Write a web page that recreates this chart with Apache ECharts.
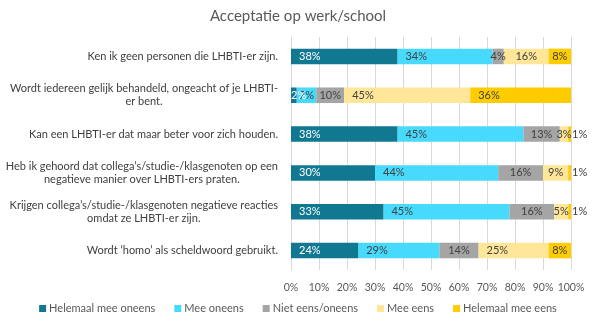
<!DOCTYPE html>
<html>
<head>
<meta charset="utf-8">
<script src="https://cdn.jsdelivr.net/npm/echarts@6/dist/echarts.min.js"></script>
<style>
  html, body { margin: 0; padding: 0; background: #fff; }
  #chart { width: 596px; height: 322px; }
</style>
</head>
<body>
<div id="chart"></div>
<script>
// Statements, top to bottom
const categories = [
  'Ken ik geen personen die LHBTI-er zijn.',
  'Wordt iedereen gelijk behandeld, ongeacht of je LHBTI-\ner bent.',
  'Kan een LHBTI-er dat maar beter voor zich houden.',
  'Heb ik gehoord dat collega\u2019s/studie-/klasgenoten op een\nnegatieve manier over LHBTI-ers praten.',
  'Krijgen collega\u2019s/studie-/klasgenoten negatieve reacties\nomdat ze LHBTI-er zijn.',
  'Wordt \u2018homo\u2019 als scheldwoord gebruikt.'
];

// Answer shares (%) per statement
const helemaalMeeOneens = [38, 2, 38, 30, 33, 24];
const meeOneens         = [34, 7, 45, 44, 45, 29];
const nietEensOneens    = [4, 10, 13, 16, 16, 14];
const meeEens           = [16, 45, 3, 9, 5, 25];
const helemaalMeeEens   = [8, 36, 1, 1, 1, 8];

const seriesNames = ['Helemaal mee oneens', 'Mee oneens', 'Niet eens/oneens', 'Mee eens', 'Helemaal mee eens'];
const seriesData = [helemaalMeeOneens, meeOneens, nietEensOneens, meeEens, helemaalMeeEens];
const colors = ['#117892', '#47DAFD', '#A5A5A5', '#FFE699', '#FFCC00'];
const labelColors = ['#ffffff', '#404040', '#404040', '#404040', '#404040'];

const FONT = 'Lato, "Open Sans", sans-serif';

// Wide segments get their label near the start, narrow ones centred,
// and the tiniest end segments put it just past the bar.
function labelFor(v, seriesIndex) {
  if (v >= 20) return { position: 'insideLeft', distance: 8 };
  if (v <= 2) {
    return seriesIndex === seriesNames.length - 1
      ? { position: 'right', distance: 1 }
      : { position: 'insideLeft', distance: 0 };
  }
  return { position: 'inside' };
}

const chart = echarts.init(document.getElementById('chart'));
chart.setOption({
  animation: false,
  color: colors,
  textStyle: { fontFamily: FONT },
  title: {
    text: 'Acceptatie op werk/school',
    left: 'center',
    top: 4,
    textStyle: { fontFamily: FONT, fontSize: 15, fontWeight: 'normal', color: '#595959' }
  },
  legend: {
    bottom: 3,
    left: 'center',
    itemWidth: 7,
    itemHeight: 7,
    itemGap: 19,
    icon: 'rect',
    textStyle: { fontFamily: FONT, fontSize: 11, color: '#595959', padding: [0, 0, 0, -2] },
    data: seriesNames
  },
  grid: { left: 291, right: 25, top: 37, bottom: 52, containLabel: false },
  xAxis: {
    type: 'value',
    min: 0,
    max: 100,
    interval: 10,
    axisLine: { show: false },
    axisTick: { show: false },
    splitLine: { show: true, lineStyle: { color: '#D9D9D9', width: 1 } },
    axisLabel: { formatter: '{value}%', fontFamily: FONT, fontSize: 10.5, color: '#595959', margin: 12 }
  },
  yAxis: {
    type: 'category',
    inverse: true,
    data: categories,
    axisLine: { show: true, lineStyle: { color: '#D9D9D9' } },
    axisTick: { show: false },
    axisLabel: {
      fontFamily: FONT,
      fontSize: 11,
      color: '#404040',
      margin: 13,
      lineHeight: 13,
      formatter: function (v) {
        return v.split('\n').map(function (l) { return '{c|' + l + '}'; }).join('\n');
      },
      rich: { c: { align: 'center', fontFamily: FONT, fontSize: 11, color: '#404040', lineHeight: 13 } }
    }
  },
  series: seriesNames.map(function (name, i) {
    return {
      name: name,
      type: 'bar',
      stack: 'total',
      barWidth: '40%',
      // first series on top so its small labels stay readable
      z: i === 0 ? 3 : 2,
      data: seriesData[i].map(function (v) {
        return { value: v, label: labelFor(v, i) };
      }),
      itemStyle: { color: colors[i] },
      label: {
        show: true,
        formatter: '{c}%',
        fontFamily: FONT,
        fontSize: 11,
        color: labelColors[i]
      }
    };
  })
});
</script>
</body>
</html>
